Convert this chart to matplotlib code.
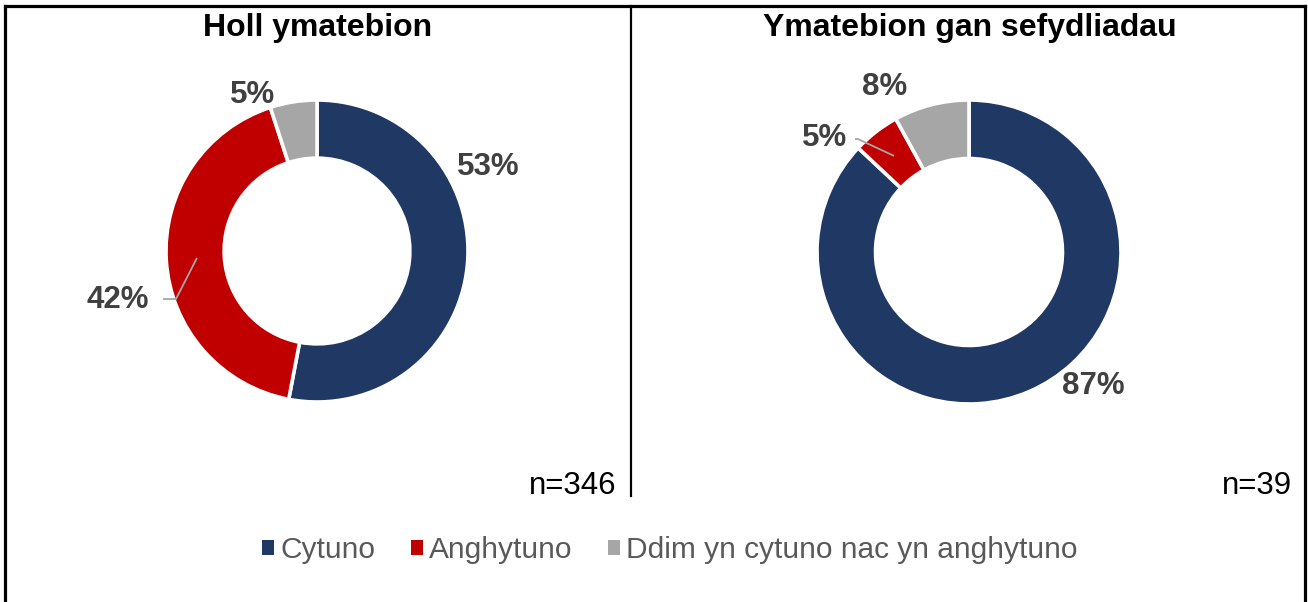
import matplotlib
matplotlib.use("Agg")
import matplotlib.pyplot as plt
from matplotlib.patches import Patch
from matplotlib.lines import Line2D

plt.rcParams['font.family'] = ['Liberation Sans', 'DejaVu Sans']

categories = ["Cytuno", "Anghytuno", "Ddim yn cytuno nac yn anghytuno"]
titles = ["Holl ymatebion", "Ymatebion gan sefydliadau"]
all_values = [53, 42, 5]
org_values = [87, 5, 8]
n_labels = ["n=346", "n=39"]
colors = ["#1F3864", "#C00000", "#A6A6A6"]

W, H = 1308, 602
fig = plt.figure(figsize=(W / 100, H / 100), dpi=100)

def fx(px):
    return px / W

def fy(py):
    return 1 - py / H

# layout: donut centre (px), radius (px), label offsets (in radius units), leader lines
layouts = [
    dict(cx=317, cy=251, r=151,
         lab=[(1.135, 0.556), (-1.318, -0.325), (-0.424, 1.03)],
         leader={1: [(-0.795, -0.046), (-0.934, -0.318), (-1.02, -0.318)]}),
    dict(cx=969, cy=252, r=152,
         lab=[(0.816, -0.882), (-0.947, 0.75), (-0.553, 1.083)],
         leader={1: [(-0.493, 0.632), (-0.73, 0.743), (-0.75, 0.743)]}),
]

for vals, lay in zip([all_values, org_values], layouts):
    m = 1.6
    size = lay['r'] * m
    ax = fig.add_axes([fx(lay['cx'] - size), fy(lay['cy'] + size),
                       2 * size / W, 2 * size / H])
    ax.pie(vals, colors=colors, startangle=90, counterclock=False, radius=1,
           wedgeprops=dict(width=0.385, edgecolor='white', linewidth=2.6))
    ax.set_xlim(-m, m)
    ax.set_ylim(-m, m)
    ax.set_aspect('equal')
    ax.axis('off')
    for i, v in enumerate(vals):
        x, y = lay['lab'][i]
        ax.text(x, y, f"{v}%", ha='center', va='center', fontsize=22.5,
                fontweight='bold', color='#404040')
    for i, pts in lay['leader'].items():
        xs = [p[0] for p in pts]
        ys = [p[1] for p in pts]
        ax.plot(xs, ys, color='#A6A6A6', lw=1.3, solid_capstyle='butt')

# titles
fig.text(fx(318), fy(28), titles[0], ha='center', va='center', fontsize=23,
         fontweight='bold', color='black')
fig.text(fx(970), fy(28), titles[1], ha='center', va='center', fontsize=23,
         fontweight='bold', color='black')

# n labels
fig.text(fx(616), fy(486), n_labels[0], ha='right', va='center', fontsize=22.5,
         color='black')
fig.text(fx(1292), fy(486), n_labels[1], ha='right', va='center', fontsize=22.5,
         color='black')

# frame lines
fig.add_artist(Line2D([fx(5), fx(5)], [fy(6), fy(602)], color='black', lw=2.3,
                      transform=fig.transFigure))
fig.add_artist(Line2D([fx(5), fx(1305)], [fy(6), fy(6)], color='black', lw=2.3,
                      transform=fig.transFigure))
fig.add_artist(Line2D([fx(1305), fx(1305)], [fy(6), fy(602)], color='black', lw=2.3,
                      transform=fig.transFigure))
fig.add_artist(Line2D([fx(631), fx(631)], [fy(6), fy(496)], color='black', lw=1.6,
                      transform=fig.transFigure))

handles = [Patch(facecolor=c, edgecolor='none') for c in colors]
leg = fig.legend(handles, categories, loc='center', bbox_to_anchor=(fx(670), fy(550)),
                 ncol=3, frameon=False, fontsize=21.5, handlelength=0.4,
                 handleheight=0.4, handletextpad=0.2, columnspacing=1.2,
                 labelcolor='#595959')

fig.savefig("out.png", dpi=100, facecolor='white')
